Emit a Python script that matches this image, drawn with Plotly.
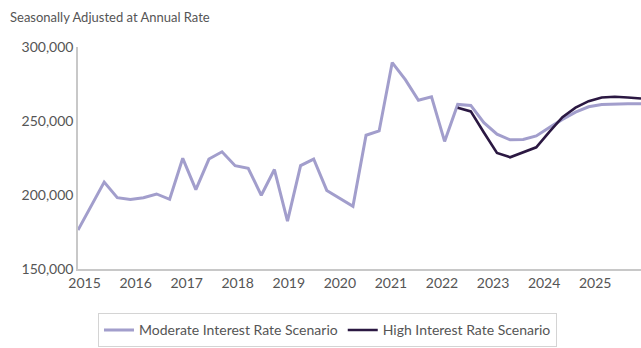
import plotly.graph_objects as go

# Quarterly housing starts, 2015 Q1 - 2025 Q4 (seasonally adjusted at annual rate)
quarters = [f"{y} Q{q}" for y in range(2015, 2026) for q in range(1, 5)]

moderate_rate = [
    176300, 192500, 208700, 198200,   # 2015
    196900, 198200, 200700, 197100,   # 2016
    224800, 203600, 224300, 229200,   # 2017
    219800, 218000, 199800, 217200,   # 2018
    182400, 219900, 224300, 203100,   # 2019
    197600, 192400, 240400, 243300,   # 2020
    289500, 277900, 264000, 266300,   # 2021
    236200, 261200, 260500, 248900,   # 2022
    241100, 237300, 237500, 239900,   # 2023
    245600, 251100, 256000, 259600,   # 2024
    261200, 261600, 261600, 261600,   # 2025
]

# High interest rate scenario diverges from 2022 Q2 onward
high_rate = [None] * 29 + [
    258900, 256500, 242200,           # 2022 Q2-Q4
    228400, 225500, 228800, 232200,   # 2023
    242700, 252600, 259000, 263400,   # 2024
    265900, 266400, 265900, 265200,   # 2025
]

year_labels = [str(y) for y in range(2015, 2026)]
y_ticks = [150000, 200000, 250000, 300000]

x_idx = list(range(len(quarters)))

LIGHT = "#a29ecc"
DARK = "#2b1842"
TEXT = "#555555"
FONT = "Lato"

fig = go.Figure()
fig.add_trace(go.Scatter(
    x=x_idx, y=moderate_rate, mode="lines",
    name="Moderate Interest Rate Scenario",
    line=dict(color=LIGHT, width=3),
    hovertext=quarters,
))
fig.add_trace(go.Scatter(
    x=x_idx, y=high_rate, mode="lines",
    name="High Interest Rate Scenario",
    line=dict(color=DARK, width=2.6),
    hovertext=quarters,
))

# year labels sit slightly after each Q1 and are spaced a little tighter than the data
tick_pos = [0.5 + 3.9 * k for k in range(len(year_labels))]

fig.update_layout(
    width=641, height=348,
    margin=dict(l=78, r=0, t=47, b=77),
    paper_bgcolor="white", plot_bgcolor="white",
    font=dict(family=FONT, size=14, color=TEXT),
    showlegend=True,
    legend=dict(
        orientation="h",
        x=0.0355, xanchor="left",
        y=-0.2, yanchor="top",
        bordercolor="#d4d4d4", borderwidth=1,
        font=dict(family=FONT, size=14, color=TEXT),
        itemwidth=30,
        tracegroupgap=0,
    ),
    xaxis=dict(
        range=[0, len(quarters) - 1],
        tickmode="array", tickvals=tick_pos, ticktext=year_labels,
        showgrid=False, zeroline=False,
        showline=True, linecolor="#c8c8c8", linewidth=1.5,
        ticks="", tickfont=dict(family=FONT, size=14, color=TEXT),
    ),
    yaxis=dict(
        range=[150000, 300000],
        tickmode="array", tickvals=y_ticks,
        tickformat=",d",
        showgrid=False, zeroline=False,
        showline=True, linecolor="#c8c8c8", linewidth=1.5,
        ticks="", tickfont=dict(family=FONT, size=14, color=TEXT),
    ),
    annotations=[dict(
        text="Seasonally Adjusted at Annual Rate",
        xref="paper", yref="paper", x=-0.1245, y=1.0,
        xanchor="left", yanchor="bottom", yshift=20,
        showarrow=False,
        font=dict(family=FONT, size=13, color=TEXT),
    )],
)

fig.write_html("out.html")
